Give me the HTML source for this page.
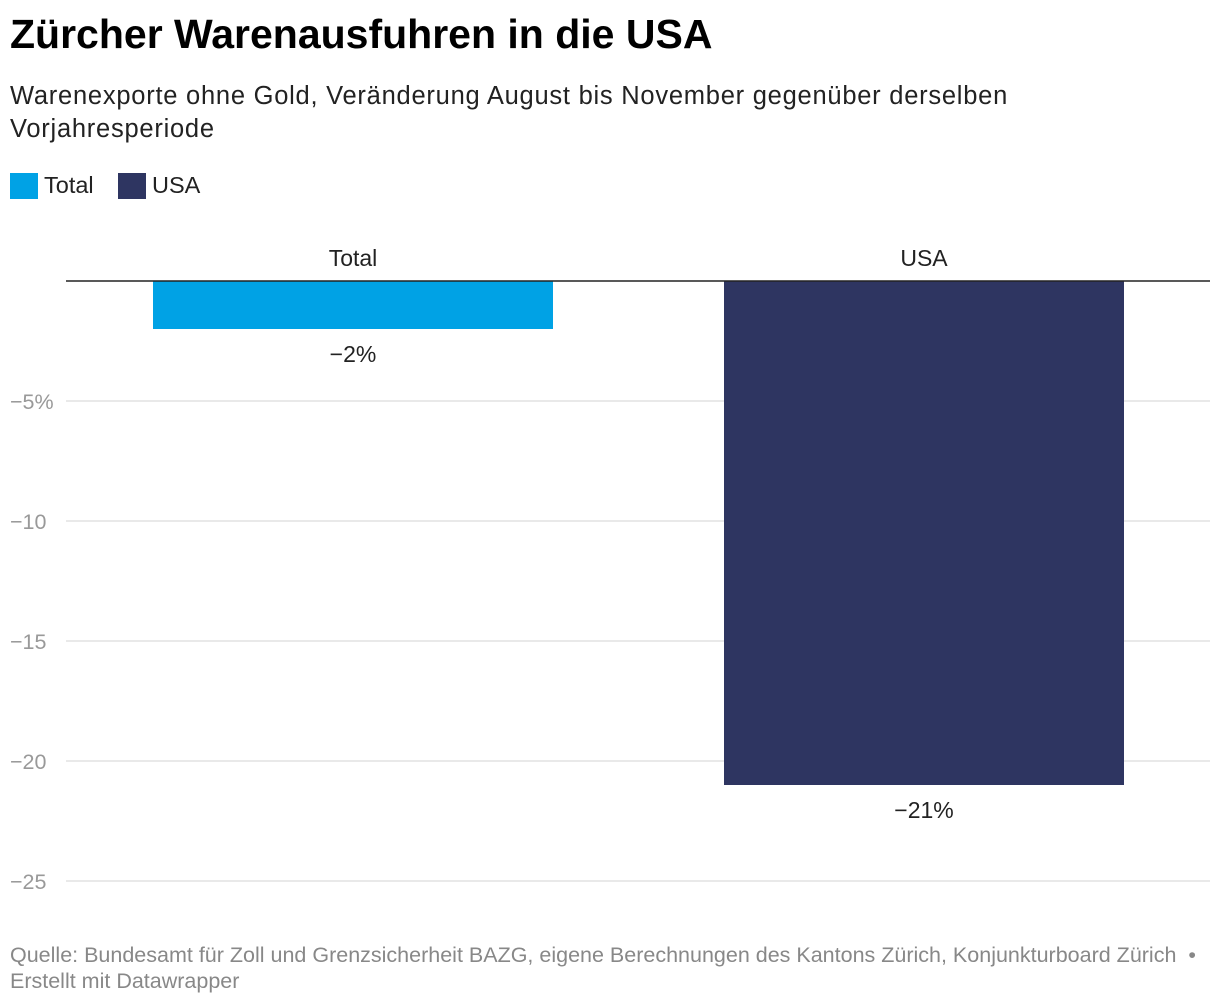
<!DOCTYPE html>
<html><head><meta charset="utf-8"><style>
body{margin:0;background:#fff;font-family:"Liberation Sans",sans-serif;}
#wrap{position:relative;width:1220px;height:1004px;overflow:hidden}
.t{position:absolute;white-space:nowrap}
</style></head><body>
<div id="wrap">
<div class="t" style="left:10px;top:11px;font-size:41px;font-weight:bold;color:#000">Zürcher Warenausfuhren in die USA</div>
<div class="t" style="left:10px;top:80px;font-size:25.5px;letter-spacing:0.75px;line-height:33px;color:#222;white-space:normal;width:1100px">Warenexporte ohne Gold, Veränderung August bis November gegenüber derselben Vorjahresperiode</div>
<div style="position:absolute;left:10px;top:173px;width:28px;height:26px;background:#00a2e5"></div>
<div class="t" style="left:44px;top:172px;font-size:23.5px;color:#222">Total</div>
<div style="position:absolute;left:118px;top:173px;width:28px;height:26px;background:#2e3561"></div>
<div class="t" style="left:152px;top:172px;font-size:23.5px;color:#222">USA</div>
<svg id="chart" width="1220" height="1004" style="position:absolute;left:0;top:0"></svg>
<div class="t" style="left:10px;top:942px;font-size:21.5px;line-height:26px;color:#888">Quelle: Bundesamt für Zoll und Grenzsicherheit BAZG, eigene Berechnungen des Kantons Zürich, Konjunkturboard Zürich &nbsp;•<br>Erstellt mit Datawrapper</div>
</div>
<script>
const categories=["Total","USA"];
const values=[-2,-21];
const colors=["#00a2e5","#2e3561"];
const ticks=[-5,-10,-15,-20,-25];
const tickLabels=["−5%","−10","−15","−20","−25"];
const valueLabels=["−2%","−21%"];
const svg=document.getElementById('chart');
const NS="http://www.w3.org/2000/svg";
const y0=281,pxPer=24;
function y(v){return y0-v*pxPer;}
const barW=400;
function xc(i){return [353,924][i];}
function mk(tag,attrs){const e=document.createElementNS(NS,tag);for(const k in attrs)e.setAttribute(k,attrs[k]);svg.appendChild(e);return e;}
ticks.forEach((t,i)=>{
  const l=mk('line',{x1:66,x2:1210,y1:y(t),y2:y(t),stroke:'#e2e2e2','stroke-width':1.5});
  
  
  const tx=mk('text',{x:10,y:y(t)+8,'font-size':21.5,fill:'#999','font-family':'Liberation Sans, sans-serif'});
  tx.textContent=tickLabels[i];
  
  
});
categories.forEach((c,i)=>{
  const cx=xc(i);
  const v=values[i];
  const r=mk('rect',{x:cx-barW/2,y:Math.min(y0,y(v)),width:barW,height:Math.abs(y(v)-y0),fill:colors[i]});
  
  
  const cl=mk('text',{x:cx,y:266,'font-size':23,fill:'#222','text-anchor':'middle','font-family':'Liberation Sans, sans-serif'});
  cl.textContent=c;
  
  
  const vl=mk('text',{x:cx,y:y(v)+33,'font-size':23,fill:'#222','text-anchor':'middle','font-family':'Liberation Sans, sans-serif'});
  vl.textContent=valueLabels[i];
  
  
});
const z=mk('line',{x1:66,x2:1210,y1:y0,y2:y0,stroke:'#222','stroke-width':1.5});


</script>
</body></html>
